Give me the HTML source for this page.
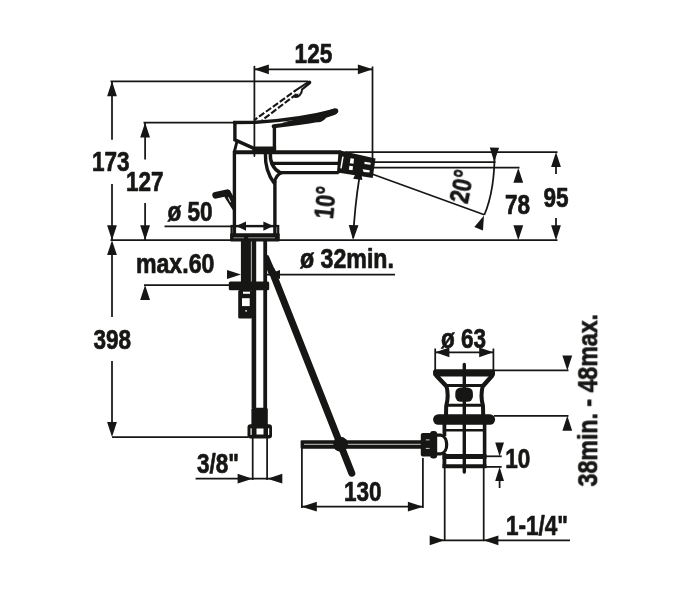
<!DOCTYPE html>
<html lang="en">
<head>
<meta charset="utf-8">
<title>Dimension drawing</title>
<style>
html,body{margin:0;padding:0;background:#fff;}
svg{display:block;}
text{will-change:transform;}
text{font-family:"Liberation Sans",sans-serif;font-weight:700;}
</style>
</head>
<body>
<svg width="692" height="591" viewBox="0 0 692 591">
<rect width="692" height="591" fill="#fff"/>
<g fill="none" stroke="#161615" stroke-linecap="butt">
<line x1="254.8" y1="69.3" x2="372" y2="69.3" stroke-width="1.75" />
<polygon points="254.00,69.30 268.90,64.40 268.90,74.20" fill="#161615" stroke="none"/>
<polygon points="372.80,69.30 357.90,74.20 357.90,64.40" fill="#161615" stroke="none"/>
<line x1="254.4" y1="66.5" x2="254.4" y2="156" stroke-width="1.75" stroke-linecap="round"/>
<line x1="372.5" y1="66.5" x2="372.5" y2="159" stroke-width="1.75" />
<line x1="110.5" y1="81.3" x2="308" y2="81.3" stroke-width="1.75" />
<line x1="112" y1="81.3" x2="112" y2="139.7" stroke-width="1.75" />
<line x1="112" y1="184" x2="112" y2="240" stroke-width="1.75" />
<polygon points="112.00,81.30 116.90,96.20 107.10,96.20" fill="#161615" stroke="none"/>
<polygon points="112.00,240.20 107.10,225.30 116.90,225.30" fill="#161615" stroke="none"/>
<line x1="143.5" y1="122.5" x2="235" y2="122.5" stroke-width="1.75" />
<line x1="145.1" y1="122.5" x2="145.1" y2="159.5" stroke-width="1.75" />
<line x1="145.1" y1="203" x2="145.1" y2="240" stroke-width="1.75" />
<polygon points="145.10,122.50 150.00,137.40 140.20,137.40" fill="#161615" stroke="none"/>
<polygon points="145.10,240.20 140.20,225.30 150.00,225.30" fill="#161615" stroke="none"/>
<line x1="110.5" y1="240.2" x2="557.5" y2="240.2" stroke-width="1.75" />
<polygon points="112.00,240.20 116.90,255.10 107.10,255.10" fill="#161615" stroke="none"/>
<line x1="112" y1="250" x2="112" y2="317" stroke-width="1.75" />
<line x1="112" y1="361" x2="112" y2="430" stroke-width="1.75" />
<polygon points="112.00,437.00 107.10,422.10 116.90,422.10" fill="#161615" stroke="none"/>
<line x1="112" y1="437" x2="248" y2="437" stroke-width="1.75" />
<line x1="164.5" y1="226.3" x2="274" y2="226.3" stroke-width="1.75" />
<polygon points="236.00,226.10 246.00,221.40 246.00,230.80" fill="#161615" stroke="none"/>
<polygon points="273.40,226.10 263.40,230.80 263.40,221.40" fill="#161615" stroke="none"/>
<line x1="144" y1="285" x2="230" y2="285" stroke-width="1.75" />
<polygon points="145.10,285.00 150.00,299.90 140.20,299.90" fill="#161615" stroke="none"/>
<line x1="267" y1="274.5" x2="395" y2="274.5" stroke-width="1.75" />
<polygon points="267.00,274.50 280.00,269.90 280.00,279.10" fill="#161615" stroke="none"/>
<polygon points="241.00,274.50 227.00,279.10 227.00,269.90" fill="#161615" stroke="none"/>
<line x1="195.6" y1="478.7" x2="281" y2="478.7" stroke-width="1.75" />
<polygon points="252.50,478.70 237.60,483.60 237.60,473.80" fill="#161615" stroke="none"/>
<polygon points="267.40,478.70 282.30,473.80 282.30,483.60" fill="#161615" stroke="none"/>
<line x1="252.7" y1="437" x2="252.7" y2="480" stroke-width="1.75" />
<line x1="267.1" y1="437" x2="267.1" y2="480" stroke-width="1.75" />
<line x1="302" y1="506.7" x2="422.5" y2="506.7" stroke-width="1.75" />
<polygon points="301.60,506.70 316.80,501.80 316.80,511.60" fill="#161615" stroke="none"/>
<polygon points="423.10,506.70 407.90,511.60 407.90,501.80" fill="#161615" stroke="none"/>
<line x1="301.9" y1="448" x2="301.9" y2="508" stroke-width="1.75" />
<line x1="422.9" y1="458" x2="422.9" y2="508" stroke-width="1.75" />
<line x1="435.2" y1="352.3" x2="493.3" y2="352.3" stroke-width="1.75" />
<polygon points="435.20,352.30 449.40,347.40 449.40,357.20" fill="#161615" stroke="none"/>
<polygon points="493.40,352.30 479.20,357.20 479.20,347.40" fill="#161615" stroke="none"/>
<line x1="435.2" y1="348.5" x2="435.2" y2="370" stroke-width="1.75" />
<line x1="493.4" y1="348.5" x2="493.4" y2="370" stroke-width="1.75" />
<line x1="494" y1="370.4" x2="568.5" y2="370.4" stroke-width="1.75" />
<polygon points="567.30,370.40 562.40,355.50 572.20,355.50" fill="#161615" stroke="none"/>
<line x1="494" y1="415.8" x2="568.5" y2="415.8" stroke-width="1.75" />
<polygon points="567.30,415.80 572.20,430.70 562.40,430.70" fill="#161615" stroke="none"/>
<line x1="486" y1="456.3" x2="501.7" y2="456.3" stroke-width="1.75" />
<line x1="486" y1="466.9" x2="501.7" y2="466.9" stroke-width="1.75" />
<polygon points="499.60,456.30 495.20,442.50 504.00,442.50" fill="#161615" stroke="none"/>
<polygon points="499.60,466.90 504.00,480.90 495.20,480.90" fill="#161615" stroke="none"/>
<line x1="499.6" y1="478" x2="499.6" y2="488" stroke-width="1.75" />
<line x1="430" y1="540.3" x2="570" y2="540.3" stroke-width="1.75" />
<polygon points="444.60,540.30 429.70,545.20 429.70,535.40" fill="#161615" stroke="none"/>
<polygon points="483.50,540.30 498.40,535.40 498.40,545.20" fill="#161615" stroke="none"/>
<line x1="444.7" y1="465" x2="444.7" y2="540.6" stroke-width="1.75" />
<line x1="483.7" y1="465" x2="483.7" y2="540.6" stroke-width="1.75" />
<line x1="345" y1="152" x2="557.5" y2="152" stroke-width="1.75" />
<polygon points="556.00,152.00 560.90,166.90 551.10,166.90" fill="#161615" stroke="none"/>
<line x1="556" y1="160" x2="556" y2="174" stroke-width="1.75" />
<line x1="556" y1="218" x2="556" y2="230" stroke-width="1.75" />
<polygon points="556.00,240.20 551.10,225.30 560.90,225.30" fill="#161615" stroke="none"/>
<line x1="372" y1="167.7" x2="519.5" y2="167.7" stroke-width="1.75" />
<polygon points="518.30,167.90 523.20,182.80 513.40,182.80" fill="#161615" stroke="none"/>
<polygon points="518.30,240.20 513.40,225.30 523.20,225.30" fill="#161615" stroke="none"/>
<line x1="374" y1="162" x2="495.5" y2="162" stroke-width="1.75" />
<line x1="372" y1="174" x2="484.3" y2="214.8" stroke-width="1.75" />
<path d="M494.6,150 Q495,190 484.3,215" stroke-width="1.75"/>
<polygon points="494.20,162.00 489.80,147.62 499.10,147.78" fill="#161615" stroke="none"/>
<polygon points="484.00,215.60 482.95,230.60 474.33,227.12" fill="#161615" stroke="none"/>
<path d="M359.6,176 Q354.5,208 353.2,238" stroke-width="1.75"/>
<polygon points="359.80,165.00 362.39,180.01 353.18,178.71" fill="#161615" stroke="none"/>
<polygon points="353.10,240.00 348.72,224.94 358.52,225.28" fill="#161615" stroke="none"/>
<line x1="234.4" y1="151" x2="234.4" y2="235" stroke-width="3.4" />
<line x1="274.9" y1="181" x2="274.9" y2="235" stroke-width="3.4" />
<rect x="231.6" y="226" width="46.6" height="12" stroke-width="2.2"/>
<rect x="230.1" y="233.2" width="49.6" height="8.2" rx="1" fill="#161615" stroke="none"/>
<line x1="233.5" y1="237.8" x2="244" y2="237.8" stroke-width="0.7" stroke="#cfcfcf"/>
<line x1="248.2" y1="237.8" x2="275" y2="237.8" stroke-width="0.7" stroke="#cfcfcf"/>
<path d="M234.9,121 L234.9,139.9 L252.8,147.9" stroke-width="3.4" stroke-linejoin="miter"/>
<path d="M236.8,142 L234.3,152" stroke-width="3"/>
<line x1="274.4" y1="126" x2="274.4" y2="150" stroke-width="3.4" />
<path d="M251.5,146.4 L276.1,146.4 L276.1,153.6 L253,153.6Z" fill="#161615" stroke="none"/>
<path d="M233.2,122.4 L256,122.2 Q298,120 335,110.4" stroke-width="3.5"/>
<path d="M273.6,126.3 Q298,123.4 318,120" stroke-width="4" stroke-linecap="round"/>
<path d="M282,122.6 Q315,115.5 334.5,108.2 Q338.6,108 338.3,111.6 Q337.8,114.2 333,115.6 L326.2,117.8 Q322.5,122.2 318.5,122.2 L314,121.8 Q300,124.2 282,122.6Z" fill="#161615" stroke="none"/>
<path d="M295.3,90.7 L254,120.3" stroke-width="2.1" stroke-dasharray="6.4,2.1" stroke-dashoffset="4.3"/>
<path d="M296.6,94 L262,120.3" stroke-width="2.1" stroke-dasharray="6.4,2.1"/>
<path d="M295.3,90.7 L309.1,81.5 Q310.7,81.6 310.2,82.9 L302.1,89.4 Q301.9,93 299.6,95.4 Q297.2,97.7 293.9,96.6" stroke-width="2" stroke-linejoin="round" stroke-linecap="round"/>
<path d="M294.2,96.4 L298.3,93.2 L298.6,95.6 Q296.5,97.2 294.2,96.4Z" fill="#161615" stroke="none"/>
<line x1="233" y1="152.3" x2="341" y2="152.3" stroke-width="4.1" />
<line x1="270.7" y1="163.4" x2="339" y2="163.4" stroke-width="3.4" />
<line x1="279.5" y1="172.6" x2="338.5" y2="172.6" stroke-width="3.4" />
<line x1="339.8" y1="151" x2="338.3" y2="173.5" stroke-width="2.6" />
<path d="M265.4,153 Q264.8,171.5 274.6,183.6" stroke-width="3.4"/>
<path d="M270.3,153 Q269.8,167 280,172.6" stroke-width="3.4"/>
<path d="M274.6,182.5 Q275.7,175 282,172.6" stroke-width="3.2"/>
<polygon points="340.3,150.6 375.5,158.5 372.7,177.9 337.3,172.4" fill="#161615" stroke="none"/>
<g fill="#fff" stroke="none">
<polygon points="342.2,156.6 343.7,156.8 341.7,168.4 340.2,168.2"/>
<polygon points="350.5,158.2 354,158.7 353.5,163.8 349.8,163.3"/>
<polygon points="349.4,165.8 353,166.3 352.5,170.3 348.9,169.8"/>
<polygon points="364.6,161.7 370.7,162.8 370.5,164.8 364.4,164.1"/>
<polygon points="362.6,169.3 369.7,170.3 369.5,172.4 363.6,171.9"/>
</g>
<path d="M215.6,195.3 L227.3,192.7" stroke-width="6.6" stroke-linecap="round"/>
<polygon points="226,190 229.9,190.3 234,197.5 234,212 224.5,197" fill="#161615" stroke="none"/>
<line x1="228.3" y1="197.3" x2="230.6" y2="202.2" stroke-width="1" stroke="#fff"/>
<rect x="240.9" y="241" width="10" height="41" fill="#161615" stroke="none"/>
<rect x="251.6" y="241" width="4.6" height="167" fill="#161615" stroke="none"/>
<rect x="263.3" y="241" width="3.8" height="167" fill="#161615" stroke="none"/>
<rect x="228.8" y="281.6" width="40.4" height="8.6" rx="1.5" fill="#161615" stroke="none"/>
<rect x="238.2" y="290" width="14" height="28.4" rx="1.5" fill="#161615" stroke="none"/>
<rect x="243" y="291.7" width="7" height="2.1" fill="#fff" stroke="none"/>
<rect x="242" y="298.2" width="7.7" height="7.9" fill="#fff" stroke="none"/>
<circle cx="246.1" cy="310.8" r="0.9" fill="#fff" stroke="none"/>
<rect x="251.4" y="407.8" width="16.4" height="18" rx="1.5" fill="#161615" stroke="none"/>
<rect x="247.5" y="424.2" width="24.5" height="14.2" rx="3" fill="#161615" stroke="none"/>
<rect x="256.5" y="428.5" width="7" height="6" fill="#fff" stroke="none"/>
<rect x="250.5" y="428.3" width="1.2" height="6.6" fill="#fff" stroke="none"/>
<rect x="268" y="428.3" width="1.2" height="6.6" fill="#fff" stroke="none"/>
<path d="M272,271.2 L351.8,473.2" stroke-width="7" stroke-linecap="round"/>
<polygon points="266.3,254.8 268.6,255.5 277,275 269,275 266.3,268" fill="#161615" stroke="none"/>
<circle cx="340.6" cy="444.3" r="7.3" fill="#161615" stroke="none"/>
<rect x="300.6" y="440.2" width="122" height="8.6" rx="1" fill="#161615" stroke="none"/>
<line x1="304" y1="444.3" x2="421" y2="444.3" stroke-width="0.9" stroke="#d8d8d8"/>
<circle cx="340.6" cy="444.3" r="7.3" fill="#161615" stroke="none"/>
<rect x="420.8" y="433" width="11" height="23.6" rx="2" fill="#161615" stroke="none"/>
<rect x="430" y="431" width="7.2" height="27.4" rx="3" fill="#161615" stroke="none"/>
<line x1="425.8" y1="439.9" x2="429.6" y2="439.9" stroke-width="0.9" stroke="#ddd"/>
<line x1="425.8" y1="448.4" x2="429.6" y2="448.4" stroke-width="0.9" stroke="#ddd"/>
<path d="M437,435.2 L441,435.2 C445,436 446.7,440.5 446.7,444.5 C446.7,448.5 445,453 441,453.8 L437,453.8" stroke-width="3.2"/>
<rect x="433.1" y="369.2" width="61.9" height="7.3" rx="2.5" fill="#161615" stroke="none"/>
<path d="M435.8,375 L446.2,386 M492.7,375 L483,386" stroke-width="4.4"/>
<line x1="445" y1="385.5" x2="484.2" y2="385.5" stroke-width="3" />
<path d="M446.2,385 Q449.2,395.5 446.2,406 L446,415" stroke-width="4"/>
<path d="M483,385 Q480,395.5 483,406 L483.2,415" stroke-width="4"/>
<line x1="445" y1="405.3" x2="484.2" y2="405.3" stroke-width="3" />
<rect x="455.3" y="387.4" width="17.6" height="14.4" rx="5.5" fill="#161615" stroke="none"/>
<rect x="433.1" y="414.2" width="62" height="10.5" rx="5.2" fill="#161615" stroke="none"/>
<line x1="464.3" y1="364.5" x2="464.3" y2="472" stroke-width="3.4" stroke-linecap="round"/>
<line x1="444.4" y1="424" x2="444.4" y2="436" stroke-width="3.8" />
<line x1="444.4" y1="453" x2="444.4" y2="468" stroke-width="3.8" />
<line x1="484.6" y1="424" x2="484.6" y2="468" stroke-width="3.6" />
<line x1="444" y1="430.2" x2="485" y2="430.2" stroke-width="2.6" />
<line x1="442.5" y1="456.4" x2="486.4" y2="456.4" stroke-width="5" />
<line x1="442.5" y1="466.2" x2="486.4" y2="466.2" stroke-width="4" />
</g>
<text transform="translate(294.6,63.1) scale(0.822,1)" font-size="27.4" text-anchor="start" stroke="#161615" stroke-width="0.7" stroke-linejoin="round" fill="#161615">125</text>
<text transform="translate(92,171) scale(0.822,1)" font-size="27.4" text-anchor="start" stroke="#161615" stroke-width="0.7" stroke-linejoin="round" fill="#161615">173</text>
<text transform="translate(126,191) scale(0.822,1)" font-size="27.4" text-anchor="start" stroke="#161615" stroke-width="0.7" stroke-linejoin="round" fill="#161615">127</text>
<text transform="translate(167.5,221) scale(0.822,1)" font-size="27.4" text-anchor="start" stroke="#161615" stroke-width="0.7" stroke-linejoin="round" fill="#161615">ø 50</text>
<text transform="translate(135.9,272.7) scale(0.845,1)" font-size="27.4" text-anchor="start" stroke="#161615" stroke-width="0.7" stroke-linejoin="round" fill="#161615">max.60</text>
<text transform="translate(300,267.8) scale(0.845,1)" font-size="27.4" text-anchor="start" stroke="#161615" stroke-width="0.7" stroke-linejoin="round" fill="#161615">ø 32min.</text>
<text transform="translate(93.5,349) scale(0.822,1)" font-size="27.4" text-anchor="start" stroke="#161615" stroke-width="0.7" stroke-linejoin="round" fill="#161615">398</text>
<text transform="translate(197,472.6) scale(0.822,1)" font-size="27.4" text-anchor="start" stroke="#161615" stroke-width="0.7" stroke-linejoin="round" fill="#161615">3/8"</text>
<text transform="translate(344,501) scale(0.822,1)" font-size="27.4" text-anchor="start" stroke="#161615" stroke-width="0.7" stroke-linejoin="round" fill="#161615">130</text>
<text transform="translate(441,348.3) scale(0.822,1)" font-size="27.4" text-anchor="start" stroke="#161615" stroke-width="0.7" stroke-linejoin="round" fill="#161615">ø 63</text>
<text transform="translate(505.3,468) scale(0.822,1)" font-size="27.4" text-anchor="start" stroke="#161615" stroke-width="0.7" stroke-linejoin="round" fill="#161615">10</text>
<text transform="translate(506,535.3) scale(0.822,1)" font-size="27.4" text-anchor="start" stroke="#161615" stroke-width="0.7" stroke-linejoin="round" fill="#161615">1-1/4"</text>
<text transform="translate(543.5,207) scale(0.822,1)" font-size="27.4" text-anchor="start" stroke="#161615" stroke-width="0.7" stroke-linejoin="round" fill="#161615">95</text>
<text transform="translate(505,214) scale(0.822,1)" font-size="27.4" text-anchor="start" stroke="#161615" stroke-width="0.7" stroke-linejoin="round" fill="#161615">78</text>
<text transform="translate(597.2,486.4) rotate(-90) scale(0.845,1)" font-size="27.4" text-anchor="start" stroke="#161615" stroke-width="0.7" stroke-linejoin="round" fill="#161615">38min. - 48max.</text>
<text transform="translate(332.9,219.5) rotate(-84) scale(0.778,1)" font-size="27.4" text-anchor="start" stroke="#161615" stroke-width="0.7" stroke-linejoin="round" fill="#161615">10°</text>
<text transform="translate(467.5,204.5) rotate(-78) scale(0.792,1)" font-size="27.4" text-anchor="start" stroke="#161615" stroke-width="0.7" stroke-linejoin="round" fill="#161615">20°</text>
</svg>
</body>
</html>
